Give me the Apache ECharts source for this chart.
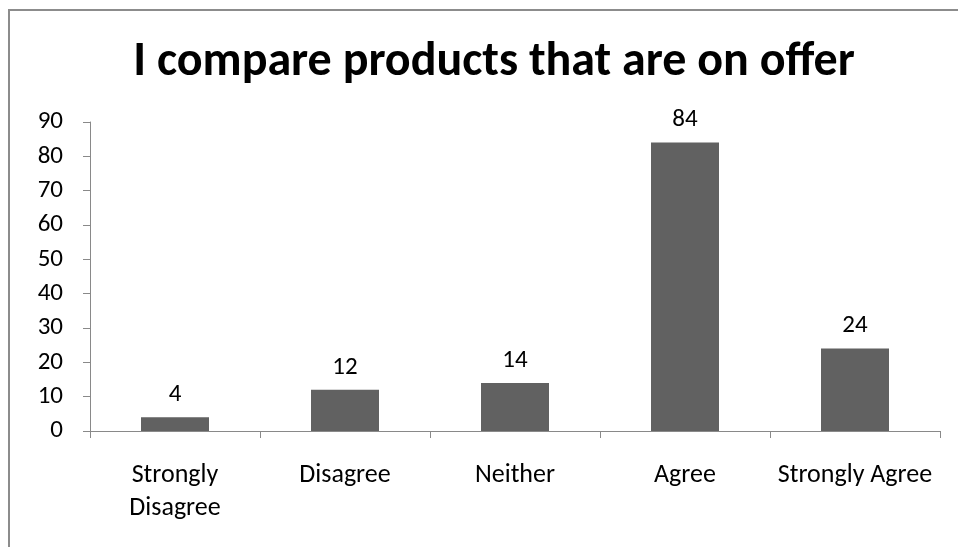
<!DOCTYPE html>
<html>
<head>
<meta charset="utf-8">
<script src="https://cdn.jsdelivr.net/npm/echarts@6/dist/echarts.min.js"></script>
<style>
  html, body { margin: 0; padding: 0; background: #fff; }
  #chart { width: 958px; height: 547px; }
</style>
</head>
<body>
<div id="chart"></div>
<script>
// Survey responses: "I compare products that are on offer"
const titleText = 'I compare products that are on offer';
const categories = ['Strongly\nDisagree', 'Disagree', 'Neither', 'Agree', 'Strongly Agree'];
const responses = [4, 12, 14, 84, 24];
const yTicks = { min: 0, max: 90, interval: 10 };

const fontFamily = 'Carlito, Lato, "Open Sans", sans-serif';
const axisGray = '#898989';

const chart = echarts.init(document.getElementById('chart'));
chart.setOption({
  animation: false,
  backgroundColor: '#ffffff',
  title: {
    text: titleText,
    left: 489,
    top: 34,
    textAlign: 'center',
    textStyle: { fontFamily, fontSize: 48, fontWeight: 'bold', color: '#000' }
  },
  graphic: [{
    type: 'rect',
    shape: { x: 9, y: 10, width: 1000, height: 1000 },
    style: { fill: 'none', stroke: '#8c8c8c', lineWidth: 2 },
    silent: true
  }],
  grid: { left: 90, right: 18, top: 122, bottom: 116, containLabel: false },
  xAxis: {
    type: 'category',
    data: categories,
    axisLine: { lineStyle: { color: axisGray, width: 1 } },
    axisTick: { show: true, alignWithLabel: false, length: 7, lineStyle: { color: axisGray } },
    axisLabel: {
      interval: 0, margin: 28, color: '#000', fontFamily, fontSize: 26,
      lineHeight: 33, verticalAlign: 'top'
    }
  },
  yAxis: {
    type: 'value',
    min: yTicks.min, max: yTicks.max, interval: yTicks.interval,
    splitLine: { show: false },
    axisLine: { show: true, lineStyle: { color: axisGray, width: 1 } },
    axisTick: { show: true, length: 7, lineStyle: { color: axisGray } },
    axisLabel: { margin: 27, color: '#000', fontFamily, fontSize: 25 }
  },
  series: [{
    type: 'bar',
    data: responses,
    barCategoryGap: '60%',
    itemStyle: { color: '#616161' },
    label: {
      show: true, position: 'top', distance: 10,
      color: '#000', fontFamily, fontSize: 25
    }
  }]
});
</script>
</body>
</html>
